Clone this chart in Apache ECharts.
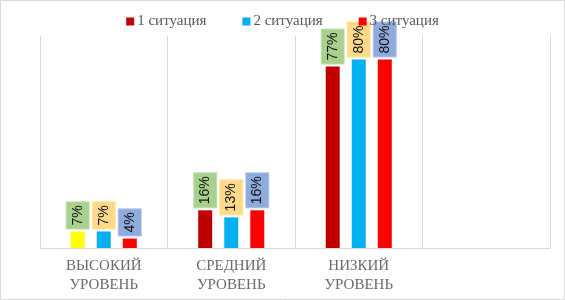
<!DOCTYPE html>
<html><head><meta charset="utf-8">
<script src="https://cdn.jsdelivr.net/npm/echarts@6/dist/echarts.min.js"></script>
<style>html,body{margin:0;padding:0;background:#fff}#c{width:565px;height:300px}</style>
</head><body><div id="c"></div>
<script>
const categories = ['ВЫСОКИЙ\nУРОВЕНЬ', 'СРЕДНИЙ\nУРОВЕНЬ', 'НИЗКИЙ\nУРОВЕНЬ', ''];
const seriesNames = ['1 ситуация', '2 ситуация', '3 ситуация'];
const s1 = [7, 16, 77, null];
const s2 = [7, 13, 80, null];
const s3 = [4, 16, 80, null];

const colors = ['#c00000', '#00b0f0', '#ff0000'];
const labelBg = ['#a9d18e', '#ffd98a', '#8faadc'];
const labelBorder = ['#c5e0b4', '#ffe699', '#b4c7e7'];

function mk(i, data) {
  return {
    name: seriesNames[i], type: 'bar', barWidth: 14, barGap: '86%',
    itemStyle: { color: colors[i] },
    data: data.map((v, k) => (i === 0 && k === 0) ? { value: v, itemStyle: { color: '#ffff00' } } : v),
    label: {
      show: true, position: 'top', distance: 3, rotate: 90,
      align: 'left', verticalAlign: 'middle',
      formatter: p => p.value == null ? '' : p.value + '%',
      fontFamily: 'Liberation Sans', fontSize: 14, color: '#111',
      backgroundColor: labelBg[i], borderColor: labelBorder[i], borderWidth: 1,
      padding: [4, 3, 4, 3]
    }
  };
}

const chart = echarts.init(document.getElementById('c'));
chart.setOption({
  animation: false,
  graphic: [{ type: 'rect', shape: { x: 0.5, y: 0.5, width: 564, height: 299 }, style: { fill: 'none', stroke: '#d9d9d9', lineWidth: 1 }, silent: true }],
  legend: {
    top: 9, left: 'center', itemWidth: 8, itemHeight: 8, itemGap: 36,
    icon: 'rect',
    textStyle: { fontFamily: 'Liberation Serif', fontSize: 15, color: '#595959', padding: [0, 0, 0, -2] },
    data: seriesNames
  },
  grid: { left: 40, right: 15, top: 36, bottom: 52 },
  xAxis: {
    type: 'category', data: categories,
    axisLine: { lineStyle: { color: '#d9d9d9' } },
    axisTick: { show: false },
    splitLine: { show: true, lineStyle: { color: '#d9d9d9' } },
    axisLabel: { fontFamily: 'Liberation Serif', fontSize: 15, color: '#6b6b6b', lineHeight: 19, margin: 9 }
  },
  yAxis: { type: 'value', min: 0, max: 90, show: false, splitLine: { show: false } },
  series: [mk(0, s1), mk(1, s2), mk(2, s3)]
});
</script></body></html>
